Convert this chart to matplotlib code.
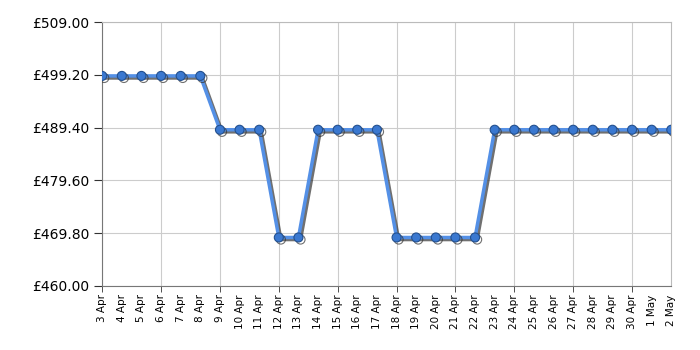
import matplotlib.pyplot as plt
import matplotlib.patheffects as pe

# Price history, 3 Apr - 2 May
dates = ["3 Apr", "4 Apr", "5 Apr", "6 Apr", "7 Apr", "8 Apr", "9 Apr", "10 Apr",
         "11 Apr", "12 Apr", "13 Apr", "14 Apr", "15 Apr", "16 Apr", "17 Apr",
         "18 Apr", "19 Apr", "20 Apr", "21 Apr", "22 Apr", "23 Apr", "24 Apr",
         "25 Apr", "26 Apr", "27 Apr", "28 Apr", "29 Apr", "30 Apr", "1 May", "2 May"]
prices = [499, 499, 499, 499, 499, 499, 489, 489, 489, 469, 469, 489, 489, 489, 489,
          469, 469, 469, 469, 469, 489, 489, 489, 489, 489, 489, 489, 489, 489, 489]
y_ticks = [460.00, 469.80, 479.60, 489.40, 499.20, 509.00]

fig = plt.figure(figsize=(7, 3.5), dpi=100)
ax = fig.add_axes([0.146, 0.183, 0.813, 0.754])

x = list(range(len(dates)))
ax.plot(x, prices, color="#5490e6", lw=2.5, marker="o", ms=6.5,
        markerfacecolor="#3a78d0", markeredgecolor="#23508f", markeredgewidth=0.8,
        path_effects=[pe.SimpleLineShadow(offset=(1.5, -1.5), shadow_color="#333333", alpha=0.7),
                      pe.Normal()], zorder=3)

ax.set_xlim(0, len(dates) - 1)
ax.set_ylim(460, 509)
ax.set_yticks(y_ticks, [f"£{v:.2f}" for v in y_ticks], fontsize=10)

# labels every day, gridlines and tick marks every 3 days
ax.xaxis.remove_overlapping_locs = False
ax.set_xticks(x, dates, rotation=90, fontsize=7.5)
ax.set_xticks(x[::3], minor=True)
ax.tick_params(axis="x", which="major", length=0, pad=6)
ax.tick_params(axis="x", which="minor", length=4, color="#333333")
ax.tick_params(axis="y", length=6, color="#333333")

ax.grid(False, which="major", axis="x")
ax.grid(True, which="minor", axis="x", color="#cccccc", lw=0.8)
ax.grid(True, which="major", axis="y", color="#cccccc", lw=0.8)
ax.set_axisbelow(True)
for side in ["left", "bottom"]:
    ax.spines[side].set_color("#777777")
for side in ["top", "right"]:
    ax.spines[side].set_color("#bbbbbb")

fig.savefig("out.png", dpi=100)
